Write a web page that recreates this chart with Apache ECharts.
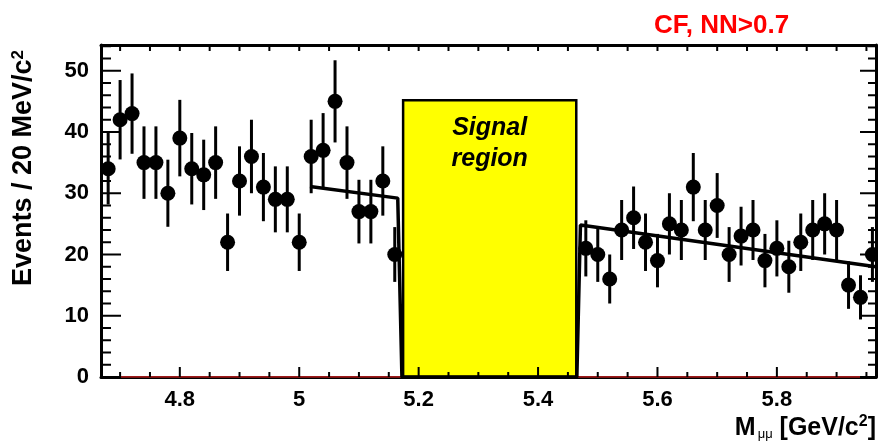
<!DOCTYPE html>
<html><head><meta charset="utf-8">
<script src="https://cdn.jsdelivr.net/npm/echarts@6/dist/echarts.min.js"></script>
<style>html,body{margin:0;padding:0;background:#fff}#c{width:878px;height:446px}</style>
</head><body><div id="c"></div>
<script>
// ---- data ----
const leftMass   = [4.68,4.70,4.72,4.74,4.76,4.78,4.80,4.82,4.84,4.86,4.88,4.90,4.92,4.94,4.96,4.98,5.00,5.02,5.04,5.06,5.08,5.10,5.12,5.14,5.16];
const leftCounts = [34,42,43,35,35,30,39,34,33,35,22,32,36,31,29,29,22,36,37,45,35,27,27,32,20];
const rightMass   = [5.48,5.50,5.52,5.54,5.56,5.58,5.60,5.62,5.64,5.66,5.68,5.70,5.72,5.74,5.76,5.78,5.80,5.82,5.84,5.86,5.88,5.90,5.92,5.94,5.96];
const rightCounts = [21,20,16,24,26,22,19,25,24,31,24,28,20,23,24,19,21,18,22,24,25,24,15,13,20];
const fitMass  = [5.018,5.165,5.172,5.465,5.471,5.966];
const fitValue = [31.1,29.2,0,0,24.8,18.0];
const signalLow = 5.174, signalHigh = 5.464, signalTop = 45.2;
const xMin = 4.668, xMax = 5.966, yMin = 0, yMax = 54.2;
const xMajorTicks = [4.8,5.0,5.2,5.4,5.6,5.8];
const xMinorTicks = [4.7,4.75,4.85,4.9,4.95,5.05,5.1,5.15,5.25,5.3,5.35,5.45,5.5,5.55,5.65,5.7,5.75,5.85,5.9,5.95];
const yMajorTicks = [0,10,20,30,40,50];
const yMinorTicks = [2,4,6,8,12,14,16,18,22,24,26,28,32,34,36,38,42,44,46,48,52,54];

const FONT = '"Liberation Sans", Arial, Helvetica, sans-serif';
const GRID = {left:101, right:2, top:45, height:332};
const chart = echarts.init(document.getElementById('c'), null, {renderer:'canvas'});

const errRows = leftMass.map((m,i)=>[m, leftCounts[i], Math.sqrt(leftCounts[i])])
  .concat(rightMass.map((m,i)=>[m, rightCounts[i], Math.sqrt(rightCounts[i])]));
const pointData = errRows.map(r=>[r[0], r[1]]);
const fitData = fitMass.map((m,i)=>[m, fitValue[i]]);

// tick marks as short broken polylines, in data units (pixel lengths converted by plot size)
const unitY = (yMax - yMin) / GRID.height;            // data units per pixel, vertical
const unitX = (xMax - xMin) / (878 - GRID.left - GRID.right);
const tickPath = [];
function seg(a, b){ tickPath.push(a, b, ['-','-']); }
xMajorTicks.forEach(v=>{ seg([v,yMin],[v,yMin+10*unitY]); seg([v,yMax],[v,yMax-6*unitY]); });
xMinorTicks.forEach(v=>{ seg([v,yMin],[v,yMin+5*unitY]);  seg([v,yMax],[v,yMax-6*unitY]); });
yMajorTicks.forEach(v=>{ seg([xMin,v],[xMin+20*unitX,v]); seg([xMax,v],[xMax-16*unitX,v]); });
yMinorTicks.forEach(v=>{ seg([xMin,v],[xMin+10*unitX,v]); seg([xMax,v],[xMax-8*unitX,v]); });

function axisCommon(pos, min, max, ticks, showLabel){
  return {
    type:'value', position:pos, min:min, max:max, gridIndex:0,
    splitLine:{show:false},
    axisLine:{show:true, onZero:false, lineStyle:{color:'#000', width:3}},
    axisTick:{show:false},
    axisLabel:{show:showLabel, customValues:ticks, color:'#000', fontFamily:FONT, fontWeight:'bold', fontSize:22, margin:12}
  };
}

const option = {
  animation:false,
  backgroundColor:'#fff',
  grid:{left:GRID.left, right:GRID.right, top:GRID.top, height:GRID.height, containLabel:false},
  xAxis:[
    axisCommon('bottom', xMin, xMax, xMajorTicks, true),
    axisCommon('top', xMin, xMax, xMajorTicks, false)
  ],
  yAxis:[
    axisCommon('left', yMin, yMax, yMajorTicks, true),
    axisCommon('right', yMin, yMax, yMajorTicks, false)
  ],
  title:{
    text:'CF, NN>0.7', left:649, top:8,
    textStyle:{color:'#ff0000', fontFamily:FONT, fontWeight:'bold', fontSize:26}
  },
  graphic:[
    {type:'text', x:24, y:168, rotation:Math.PI/2,
     style:{text:'Events / 20 MeV/c{s|2}', fontFamily:FONT, fontWeight:'bold', fontSize:27, fill:'#000',
            align:'center', verticalAlign:'middle',
            rich:{s:{fontFamily:FONT, fontWeight:'bold', fontSize:17, fill:'#000', padding:[0,0,12,0]}}}},
    {type:'text', x:876, y:428,
     style:{text:'M{u|μμ} [GeV/c{s|2}]', fontFamily:FONT, fontWeight:'bold', fontSize:25, fill:'#000',
            align:'right', verticalAlign:'middle',
            rich:{u:{fontFamily:FONT, fontSize:13, fill:'#000', padding:[12,0,0,2]},
                  s:{fontFamily:FONT, fontWeight:'bold', fontSize:16, fill:'#000', padding:[0,0,12,0]}}}}
  ],
  series:[
    {type:'line', name:'baseline', z:1, silent:true, symbol:'none',
     data:[[xMin,0],[xMax,0]], lineStyle:{color:'#d02020', width:1.5}},
    {type:'custom', name:'signal', z:2, silent:true,
     data:[[signalLow, signalHigh, signalTop]],
     renderItem:function(params, api){
       const p0 = api.coord([api.value(0), 0]);
       const p1 = api.coord([api.value(1), api.value(2)]);
       const cx = (p0[0]+p1[0])/2;
       return {type:'group', children:[
         {type:'rect', shape:{x:p0[0], y:p1[1], width:p1[0]-p0[0], height:p0[1]-p1[1]},
          style:{fill:'#ffff00', stroke:'#000', lineWidth:2.5}},
         {type:'text', x:cx, y:p1[1]+43,
          style:{text:'Signal\nregion', fill:'#000', fontFamily:FONT, fontWeight:'bold', fontStyle:'italic',
                 fontSize:25, lineHeight:31, align:'center', verticalAlign:'middle'}}
       ]};
     }},
    {type:'line', name:'fit', z:3, silent:true, symbol:'none', data:fitData,
     lineStyle:{color:'#000', width:3.5}},
    {type:'line', name:'ticks', z:6, silent:true, symbol:'none', connectNulls:false, clip:false,
     data:tickPath, lineStyle:{color:'#000', width:2}},
    {type:'custom', name:'errors', z:4, silent:true, data:errRows,
     renderItem:function(params, api){
       const x = api.value(0), y = api.value(1), e = api.value(2);
       const a = api.coord([x, y-e]), b = api.coord([x, y+e]);
       return {type:'line', shape:{x1:a[0], y1:a[1], x2:b[0], y2:b[1]}, style:{stroke:'#000', lineWidth:3}};
     }},
    {type:'scatter', name:'data', z:5, silent:true, symbol:'circle', symbolSize:15,
     data:pointData, itemStyle:{color:'#000', opacity:1}}
  ]
};
chart.setOption(option);
</script></body></html>
